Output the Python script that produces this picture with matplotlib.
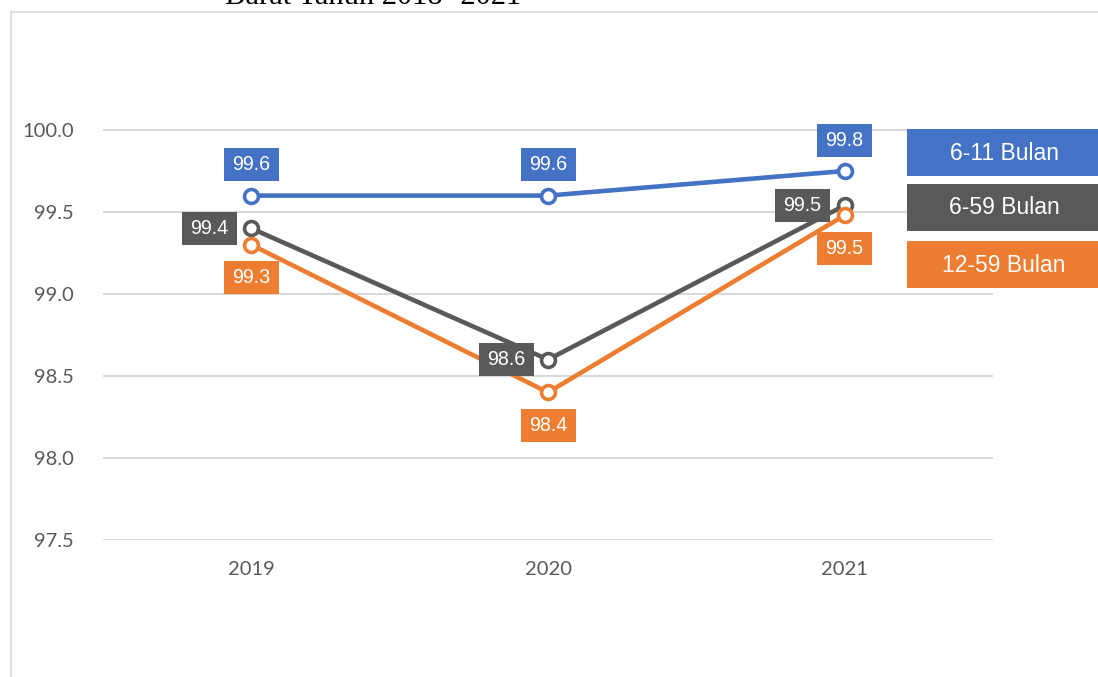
import matplotlib
matplotlib.use("Agg")
import matplotlib.pyplot as plt
from matplotlib import font_manager
from matplotlib.lines import Line2D
from matplotlib.patches import Rectangle
from matplotlib.transforms import ScaledTranslation

# Data
years = ["2019", "2020", "2021"]
series_names = ["6-11 Bulan", "6-59 Bulan", "12-59 Bulan"]
vals_6_11 = [99.6, 99.6, 99.75]
vals_6_59 = [99.4, 98.6, 99.54]
vals_12_59 = [99.3, 98.4, 99.48]
y_ticks = [97.5, 98.0, 98.5, 99.0, 99.5, 100.0]
title_text = "Barat Tahun 2018- 2021"

colors = ["#4472C4", "#595959", "#ED7D31"]


def pick_font(cands):
    names = {f.name for f in font_manager.fontManager.ttflist}
    for c in cands:
        if c in names:
            return c
    return "DejaVu Sans"


narrow = pick_font(["Liberation Sans Narrow", "Liberation Sans"])
tick_font = pick_font(["Lato", "Open Sans", "DejaVu Sans"])
serif = pick_font(["Liberation Serif", "DejaVu Serif"])

W, H = 1098, 677
DPI = 100
fig = plt.figure(figsize=(W / DPI, H / DPI), dpi=DPI)

# outer chart border (top and left edges visible)
fig.add_artist(Line2D([10.5 / W, 10.5 / W], [0, 1 - 11.5 / H],
                      transform=fig.transFigure, color="#D9D9D9", lw=1.2))
fig.add_artist(Line2D([10.5 / W, 1], [1 - 11.5 / H, 1 - 11.5 / H],
                      transform=fig.transFigure, color="#D9D9D9", lw=1.2))

fig.text(373 / W, 1 - 4.5 / H, title_text, family=serif, fontsize=22,
         ha="center", va="baseline", color="black")

ax_left, ax_right = 103 / W, 993 / W
ax_bottom, ax_top = 1 - 540 / H, 1 - 48 / H
ax = fig.add_axes([ax_left, ax_bottom, ax_right - ax_left, ax_top - ax_bottom])
ax.set_xlim(-0.5, 2.5)
ax.set_ylim(97.5, 100.5)
ax.set_yticks(y_ticks)
ax.set_yticklabels([f"{v:.1f}" for v in y_ticks])
ax.set_xticks(range(len(years)))
ax.set_xticklabels(years)
for s in ax.spines.values():
    s.set_visible(False)
ax.tick_params(length=0, labelsize=14.5, labelcolor="#595959")
ax.tick_params(axis="y", pad=21)
ax.tick_params(axis="x", pad=15)
for lab in ax.get_xticklabels() + ax.get_yticklabels():
    lab.set_family(tick_font)
for t in y_ticks:
    ax.axhline(t, color="#D9D9D9", lw=1.5, zorder=0)

all_vals = [vals_6_11, vals_6_59, vals_12_59]
x = list(range(len(years)))
for vals, c in zip(all_vals, colors):
    ax.plot(x, vals, color=c, lw=3.3, marker="o", markersize=10,
            markerfacecolor="white", markeredgecolor=c, markeredgewidth=2.6,
            zorder=3, clip_on=False)

# data labels: box centre offset from the point in pixels (dx, dy)
label_offsets = [(0, 31), (-42, 0), (0, -33)]
box_w, box_h = 55, 33
for vals, c, (dx, dy) in zip(all_vals, colors, label_offsets):
    for xi, v in zip(x, vals):
        trans = fig.dpi_scale_trans + ScaledTranslation(xi, v, ax.transData)
        ax.add_patch(Rectangle(((dx - box_w / 2) / DPI, (dy - box_h / 2) / DPI),
                               box_w / DPI, box_h / DPI, transform=trans,
                               fc=c, ec="none", zorder=5, clip_on=False))
        ax.annotate(f"{v:.1f}", (xi, v), xytext=(dx * 0.72, dy * 0.72),
                    textcoords="offset points", ha="center", va="center",
                    color="white", fontsize=14.2, family=narrow, zorder=6)

# legend boxes at the right
leg_tops = [129, 184, 241]
for name, c, top in zip(series_names, colors, leg_tops):
    fig.patches.append(Rectangle((907 / W, 1 - (top + 47) / H), 200 / W, 47 / H,
                                 transform=fig.transFigure, fc=c, ec="none",
                                 zorder=4))
    fig.text(1004 / W, 1 - (top + 24) / H, name, ha="center", va="center",
             color="white", fontsize=16.5, family=narrow, zorder=5)

fig.savefig("out.png", dpi=DPI, facecolor="white")
